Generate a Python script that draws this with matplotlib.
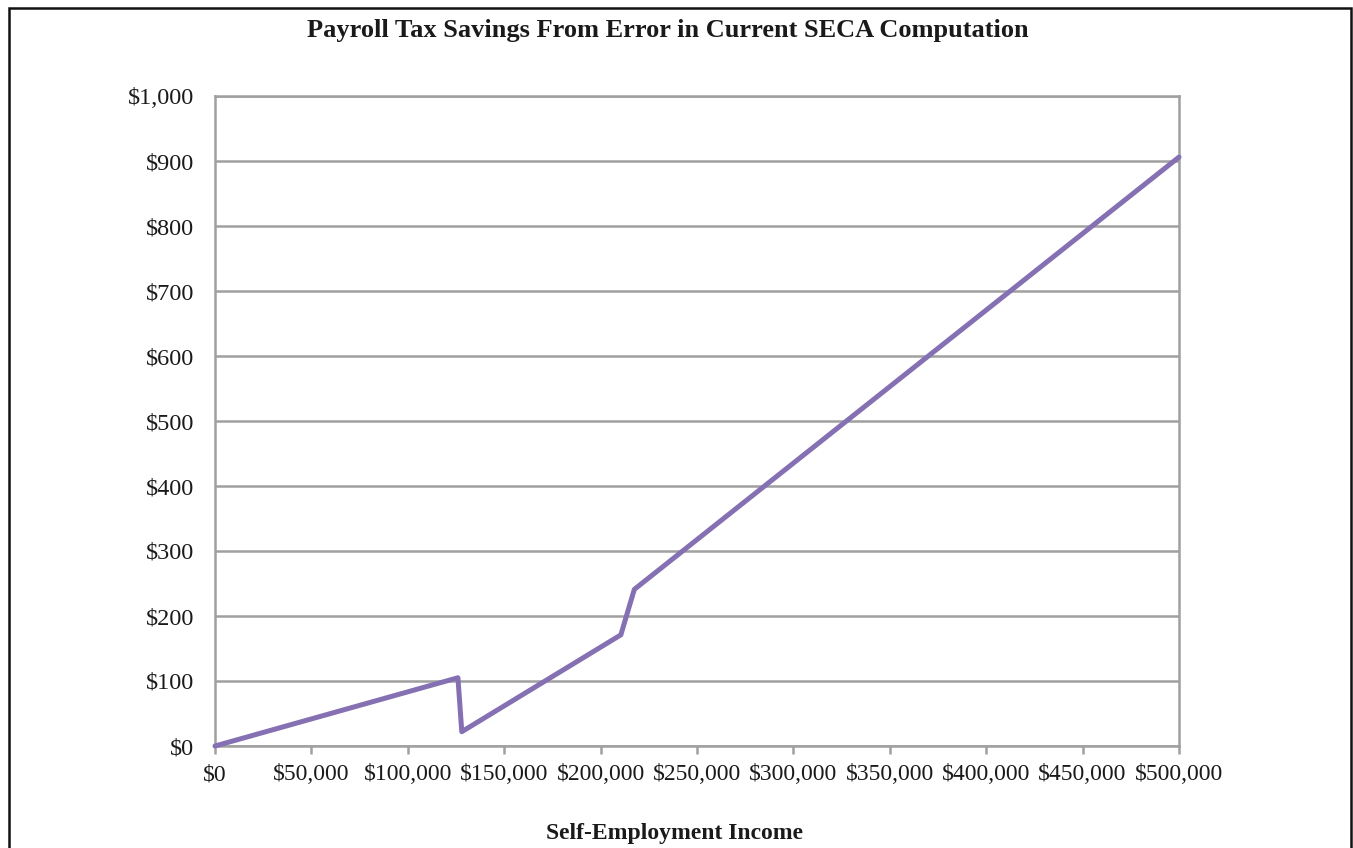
import matplotlib.pyplot as plt
from matplotlib.patches import Rectangle
from matplotlib.ticker import FuncFormatter

income = [0, 126000, 128000, 210500, 217500, 500000]
savings = [0, 105, 22, 171, 241, 906]
x_ticks = list(range(0, 500001, 50000))
y_ticks = list(range(0, 1001, 100))

plt.rcParams['font.family'] = ['Liberation Serif', 'DejaVu Serif']

fig = plt.figure(figsize=(13.53, 8.48), dpi=100)
W, H = 1353, 848
ax = fig.add_axes([215 / W, 1 - 746 / H, (1179 - 215) / W, (746 - 96) / H])

grid_c = '#a0a0a0'
ax.plot(income, savings, color='#8470b2', lw=3.6, solid_joinstyle='round',
        solid_capstyle='round', zorder=3, clip_on=False)

ax.set_xlim(0, 500000)
ax.set_ylim(0, 1000)
ax.set_xticks(x_ticks)
ax.set_yticks(y_ticks)
ax.xaxis.set_major_formatter(FuncFormatter(lambda v, p: '${:,.0f}'.format(v)))
ax.yaxis.set_major_formatter(FuncFormatter(lambda v, p: '${:,.0f}'.format(v)))
ax.yaxis.grid(True, color=grid_c, lw=1.8)
ax.set_axisbelow(True)
for s in ax.spines.values():
    s.set_color(grid_c)
    s.set_linewidth(1.8)
ax.tick_params(axis='x', colors=grid_c, length=6, width=1.8, labelcolor='#1a1a1a',
               labelsize=17, pad=7)
ax.tick_params(axis='y', length=0, labelcolor='#1a1a1a', labelsize=17.5, pad=15)

fig.text(668 / W, 1 - 30 / H, 'Payroll Tax Savings From Error in Current SECA Computation',
         ha='center', va='center', fontsize=19, fontweight='bold', color='#1a1a1a')
fig.text(674 / W, 1 - 833 / H, 'Self-Employment Income', ha='center', va='center',
         fontsize=17, fontweight='bold', color='#1a1a1a')

# outer frame, bottom runs off the image
fig.patches.append(Rectangle((9 / W, -0.05), (1351 - 9) / W, 1.05 - 8 / H,
                             transform=fig.transFigure, fill=False,
                             edgecolor='#111111', lw=1.8))

fig.savefig('out.png', dpi=100)
